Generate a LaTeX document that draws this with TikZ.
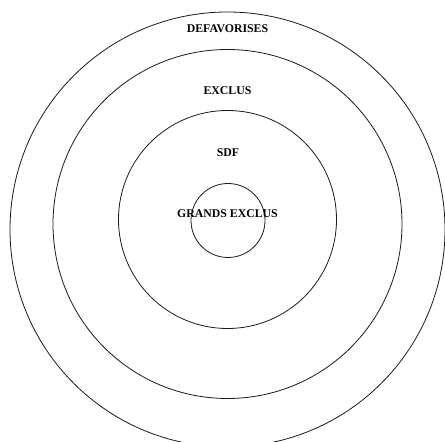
\documentclass[tikz,border=0pt]{standalone}
\usepackage{fontspec}
\setmainfont{Liberation Serif}
\usepackage{tikz}

\begin{document}
\begin{tikzpicture}[x=1pt, y=1pt, ring/.style={line width=0.8pt, black!90}, lab/.style={font=\fontsize{11.8}{14}\selectfont\bfseries, inner sep=0pt}]
  \useasboundingbox (0,0) rectangle (445,442);

  % Rings, outside to inside
  \draw[ring] (227.5,212.5) circle (217.5);
  \draw[ring] (227.5,218) circle (174.5);
  \draw[ring] (227.5,222.5) circle (109);
  \draw[ring] (228,221.5) circle (37);

  % Labels
  \node[lab] (defav) at (227.5,413) {DEFAVORISES};
  \node[lab] (exclus) at (227.5,351) {EXCLUS};
  \node[lab] (sdf) at (228,289) {SDF};
  \node[lab] (grands) at (227.5,228) {GRANDS EXCLUS};
\end{tikzpicture}
\end{document}
